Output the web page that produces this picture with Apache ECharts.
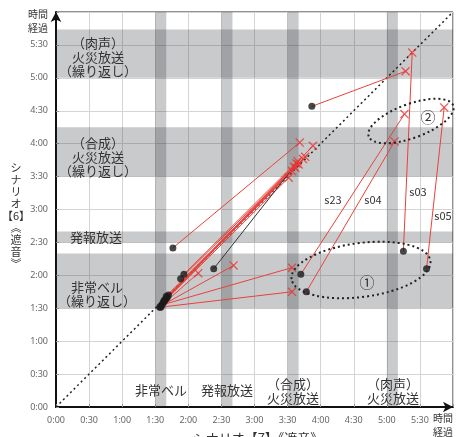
<!DOCTYPE html>
<html>
<head>
<meta charset="utf-8">
<script src="https://cdn.jsdelivr.net/npm/echarts@6/dist/echarts.min.js"></script>
<style>
  html, body { margin: 0; padding: 0; background: #fff; }
  #chart { width: 465px; height: 437px; }
</style>
</head>
<body>
<div id="chart"></div>
<script>
// all times are in minutes
var xBands = [[90, 100], [150, 160], [210, 220], [300, 310]];
var yBands = [[90, 140], [150, 160], [210, 255], [300, 344]];

// scenario 6 start (black dot) -> end (red cross), paired by index
var startPts = [
  [94, 91], [95, 92], [96, 93], [95, 91], [97, 95], [98, 96], [99, 98], [100, 99],
  [101, 100], [102, 102], [100, 101], [98, 97], [113, 117], [116, 121], [106, 145],
  [232, 274], [222, 121], [227, 105], [336, 126], [315, 142]
];
var endPts = [
  [129, 122], [161, 129], [214, 127], [214, 105], [233, 238], [211, 209], [214, 215], [217, 218],
  [220, 221], [224, 226], [226, 228], [218, 222], [216, 219], [219, 224], [221, 241],
  [317, 306], [316, 267], [307, 242], [352, 273], [323, 323]
];
// the single black link
var blackStart = [[143, 126]];
var blackEnd = [[212, 214]];

var tickFmt = function (v) {
  if (v >= 360) return '';
  var h = Math.floor(v / 60), m = v % 60;
  return h + ':' + (m < 10 ? '0' + m : m);
};

var jp = '"Noto Sans CJK JP", sans-serif';
var bandColor = 'rgba(40,44,50,0.25)';

var areas = [];
xBands.forEach(function (b) { areas.push([{ xAxis: b[0] }, { xAxis: b[1] }]); });
yBands.forEach(function (b) { areas.push([{ yAxis: b[0] }, { yAxis: b[1] }]); });

var redLinks = startPts.map(function (p, i) { return { coords: [p, endPts[i]] }; });
var blackLinks = blackStart.map(function (p, i) { return { coords: [p, blackEnd[i]] }; });

var cross = 'path://M0,1 L1,0 L10,9 L9,10 Z M9,0 L10,1 L1,10 L0,9 Z';

function txt(x, y, s, size) {
  return {
    type: 'text', x: x, y: y, z: 100,
    style: { text: s, fill: '#333', font: (size || 13) + 'px ' + jp, align: 'center', verticalAlign: 'middle', lineHeight: 14 }
  };
}

var chart = echarts.init(document.getElementById('chart'));
chart.setOption({
  animation: false,
  grid: { left: 56, right: 12, top: 12, bottom: 30, show: true, borderColor: '#222', borderWidth: 1 },
  xAxis: {
    type: 'value', min: 0, max: 360, interval: 30,
    axisLine: { lineStyle: { color: '#111', width: 2 }, symbol: ['none', 'arrow'], symbolSize: [8, 10] },
    axisTick: { show: true, length: 3, inside: true, lineStyle: { color: '#999' } },
    axisLabel: { formatter: tickFmt, fontSize: 9, color: '#666', margin: 9, fontFamily: 'Noto Sans' },
    splitLine: { lineStyle: { color: '#d4d4d4', width: 1 } }
  },
  yAxis: {
    type: 'value', min: 0, max: 360, interval: 30,
    axisLine: { lineStyle: { color: '#111', width: 2 }, symbol: ['none', 'arrow'], symbolSize: [8, 10] },
    axisTick: { show: true, length: 3, inside: true, lineStyle: { color: '#999' } },
    axisLabel: { formatter: tickFmt, fontSize: 9, color: '#666', margin: 8, fontFamily: 'Noto Sans' },
    splitLine: { lineStyle: { color: '#d4d4d4', width: 1 } }
  },
  series: [
    {
      type: 'line', data: [[0, 0], [360, 360]], symbol: 'none', z: 3,
      lineStyle: { color: '#222', width: 1.5, type: [2, 3] },
      markArea: { silent: true, itemStyle: { color: bandColor }, data: areas }
    },
    {
      type: 'lines', coordinateSystem: 'cartesian2d', z: 4,
      lineStyle: { color: '#e8413a', width: 1, opacity: 1 },
      data: redLinks
    },
    {
      type: 'lines', coordinateSystem: 'cartesian2d', z: 4,
      lineStyle: { color: '#333', width: 1, opacity: 1 },
      data: blackLinks
    },
    {
      type: 'scatter', z: 5, symbol: 'circle', symbolSize: 7,
      itemStyle: { color: '#1a1a1a' },
      data: startPts.concat(blackStart)
    },
    {
      type: 'scatter', z: 6, symbol: cross, symbolSize: 9,
      itemStyle: { color: '#e8332f' },
      data: endPts
    }
  ],
  graphic: [
    // band captions inside the plot
    txt(98, 57, '（肉声）\n火災放送\n（繰り返し）'),
    txt(98, 157, '（合成）\n火災放送\n（繰り返し）'),
    txt(96, 237, '発報放送'),
    txt(97, 294, '非常ベル\n（繰り返し）'),
    txt(161, 390, '非常ベル'),
    txt(227, 390, '発報放送'),
    txt(293, 391, '（合成）\n火災放送'),
    txt(393, 391, '（肉声）\n火災放送'),
    // series tags
    txt(333, 200, 's23', 11),
    txt(373, 200, 's04', 11),
    txt(418, 192, 's03', 11),
    txt(443, 216, 's05', 11),
    txt(367, 282, '①', 15),
    txt(428, 117, '②', 15),
    // group ellipses
    {
      type: 'ellipse', x: 361, y: 270, rotation: 0.13, z: 90,
      shape: { cx: 0, cy: 0, rx: 70, ry: 27 },
      style: { fill: 'none', stroke: '#222', lineWidth: 2, lineDash: [2, 3] }
    },
    {
      type: 'ellipse', x: 411, y: 121, rotation: 0.35, z: 90,
      shape: { cx: 0, cy: 0, rx: 45, ry: 17 },
      style: { fill: 'none', stroke: '#222', lineWidth: 2, lineDash: [2, 3] }
    },
    // axis names
    txt(38, 21, '時間\n経過', 10),
    txt(443, 425, '時間\n経過', 10),
    {
      type: 'text', x: 16, y: 216, z: 100,
      style: { text: 'シ\nナ\nリ\nオ\n【6】\n︽\n遮\n音\n︾', fill: '#333', font: '11px ' + jp, align: 'center', verticalAlign: 'middle', lineHeight: 12 }
    },
    txt(258, 438, 'シナリオ【7】《遮音》', 13)
  ]
});
</script>
</body>
</html>
